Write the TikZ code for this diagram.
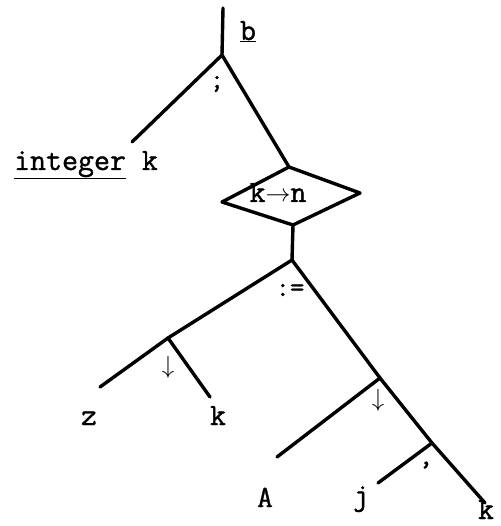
\documentclass[tikz,border=0pt]{standalone}
\usepackage{fontspec}
\setmonofont{Latin Modern Mono}[FakeBold=1.2]
\begin{document}
\begin{tikzpicture}[x=1pt,y=-1pt,
  edge/.style={line width=3.4pt,line cap=round,line join=round},
  lbl/.style={inner sep=0pt,anchor=base,font=\ttfamily\fontsize{31}{34}\selectfont},
  sml/.style={inner sep=0pt,font=\ttfamily\fontsize{28}{30}\selectfont}]
\useasboundingbox (0,0) rectangle (500,526);
% junction coordinates
\coordinate (top) at (223,8);
\coordinate (j1) at (222,55);
\coordinate (intend) at (132,142);
\coordinate (dt) at (289,167);
\coordinate (dl) at (222,202);
\coordinate (db) at (293,225);
\coordinate (dr) at (360,193);
\coordinate (j3) at (292,260);
\coordinate (lend) at (100,387);
\coordinate (j4) at (168,338);
\coordinate (kend) at (210,397);
\coordinate (j5) at (380,378);
\coordinate (aend) at (277,457);
\coordinate (j6) at (432,443);
\coordinate (jend) at (378,483);
\coordinate (rend) at (485,503);
% labels
\node[lbl] (b) at (248,40) {\underline{b}};
\node[lbl] (integer) at (86,170) {\underline{integer}\ k};
\node[lbl] (kn) at (278,202) {k$\rightarrow$n};
\node[sml] (semi) at (217,84) {;};
\node[sml] (assign) at (290,290) {:=};
\node[sml] (down1) at (168,367) {$\downarrow$};
\node[sml] (down2) at (378,400) {$\downarrow$};
\node[sml] (comma) at (426,465) {,};
\node[lbl] (z) at (89,425) {z};
\node[lbl] (k1) at (218,425) {k};
\node[lbl] (A) at (265,507) {A};
\node[lbl] (j) at (361,505) {j};
\node[lbl] (k2) at (486,519) {k};
% edges
\draw[edge] (top) -- (j1);
\draw[edge] (j1) -- (intend);
\draw[edge] (j1) -- (dt);
\draw[edge] (dt) -- (dr) -- (db) -- (dl) -- cycle;
\draw[edge] (db) -- (j3);
\draw[edge] (j3) -- (j4) -- (lend);
\draw[edge] (j4) -- (kend);
\draw[edge] (j3) -- (j5) -- (j6) -- (rend);
\draw[edge] (j5) -- (aend);
\draw[edge] (j6) -- (jend);
\end{tikzpicture}
\end{document}
